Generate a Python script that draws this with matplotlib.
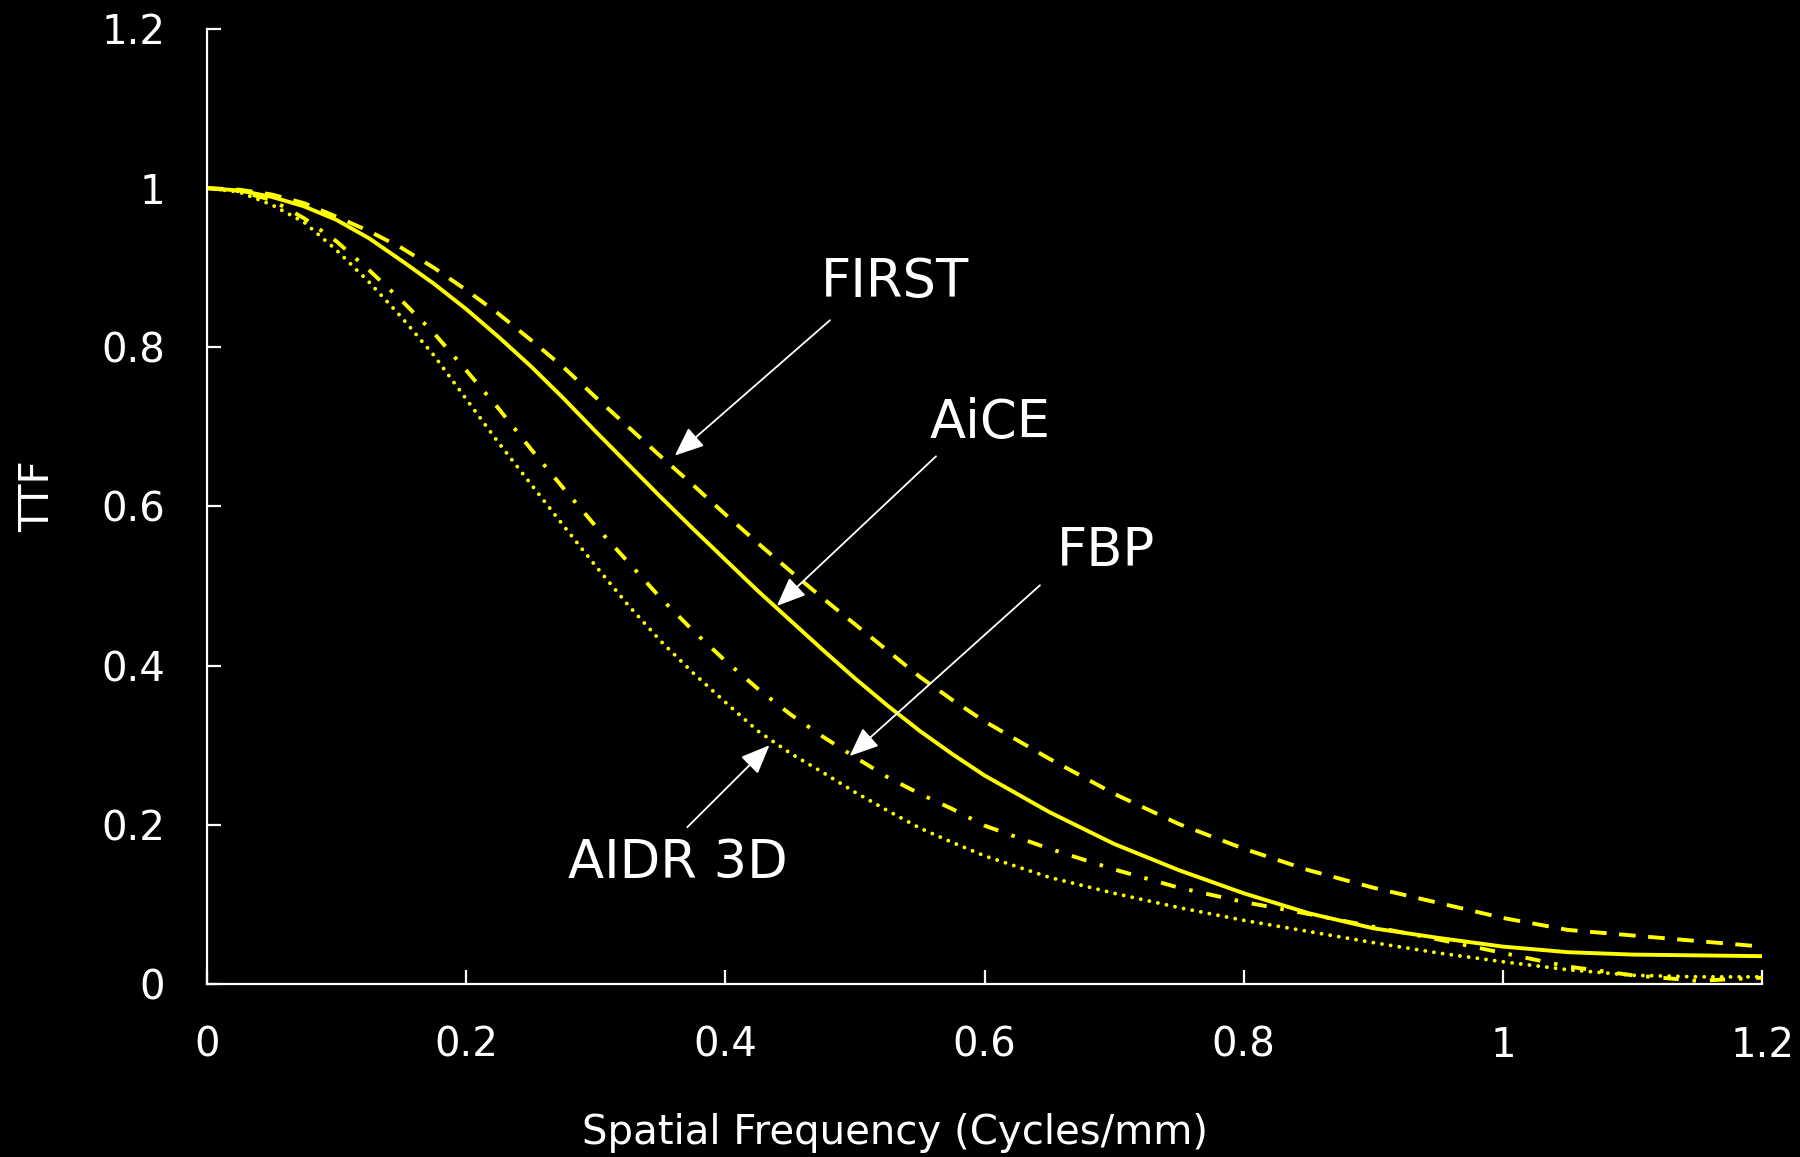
import matplotlib
matplotlib.use("Agg")
import matplotlib.pyplot as plt

plt.rcParams['font.family'] = ['DejaVu Sans']
plt.rcParams['lines.scale_dashes'] = False

freq = [0, 0.025, 0.05, 0.075, 0.1, 0.125, 0.15, 0.175, 0.2, 0.225, 0.25, 0.275,
        0.3, 0.325, 0.35, 0.375, 0.4, 0.425, 0.45, 0.475, 0.5, 0.525, 0.55, 0.575,
        0.6, 0.65, 0.7, 0.75, 0.8, 0.85, 0.9, 0.95, 1.0, 1.05, 1.1, 1.15, 1.2]

ttf_first = [1.0, 0.998, 0.992, 0.981, 0.964, 0.946, 0.925, 0.900, 0.872, 0.842, 0.809, 0.775,
             0.737, 0.700, 0.663, 0.627, 0.590, 0.554, 0.519, 0.485, 0.452, 0.419, 0.386, 0.357,
             0.330, 0.283, 0.239, 0.201, 0.170, 0.143, 0.121, 0.102, 0.083, 0.068, 0.061, 0.054, 0.047]

ttf_aice = [1.0, 0.997, 0.989, 0.977, 0.960, 0.937, 0.909, 0.880, 0.848, 0.813, 0.776, 0.736,
            0.694, 0.653, 0.612, 0.572, 0.533, 0.494, 0.457, 0.420, 0.384, 0.350, 0.318, 0.289,
            0.262, 0.216, 0.176, 0.143, 0.114, 0.089, 0.070, 0.058, 0.047, 0.040, 0.037, 0.036, 0.035]

ttf_fbp = [1.0, 0.996, 0.985, 0.962, 0.933, 0.897, 0.859, 0.818, 0.771, 0.723, 0.672, 0.623,
           0.575, 0.530, 0.485, 0.444, 0.406, 0.371, 0.339, 0.311, 0.285, 0.260, 0.239, 0.220,
           0.199, 0.170, 0.144, 0.121, 0.103, 0.088, 0.072, 0.056, 0.039, 0.022, 0.011, 0.004, 0.008]

ttf_aidr = [1.0, 0.995, 0.979, 0.957, 0.922, 0.882, 0.838, 0.790, 0.735, 0.680, 0.628, 0.576,
            0.525, 0.476, 0.431, 0.391, 0.354, 0.318, 0.290, 0.266, 0.241, 0.218, 0.196, 0.178,
            0.161, 0.134, 0.114, 0.096, 0.080, 0.066, 0.052, 0.039, 0.028, 0.018, 0.011, 0.009, 0.009]

ticks = [0, 0.2, 0.4, 0.6, 0.8, 1.0, 1.2]
tick_labels = ["0", "0.2", "0.4", "0.6", "0.8", "1", "1.2"]

labels = ["FIRST", "AiCE", "FBP", "AIDR 3D"]
label_pos = [(0.531, 0.8825), (0.604, 0.705), (0.6935, 0.544), (0.3634, 0.152)]
arrow_start = [(0.4807, 0.834), (0.5625, 0.663), (0.6427, 0.501), (0.3706, 0.197)]
arrow_tip = [(0.361, 0.664), (0.4397, 0.475), (0.4958, 0.2864), (0.434, 0.300)]

yellow = "#FFFF00"

fig = plt.figure(figsize=(18, 11.57), dpi=100, facecolor="black")
ax = fig.add_axes([0.115, 0.1495, 0.864, 0.8255], facecolor="black")

ax.plot(freq, ttf_first, color=yellow, lw=2.8, linestyle=(0, (12, 9)), dash_capstyle='butt')
ax.plot(freq, ttf_aice, color=yellow, lw=2.8, linestyle='-')
ax.plot(freq, ttf_fbp, color=yellow, lw=2.8, linestyle=(0, (11, 10, 2.5, 10)), dash_capstyle='butt')
ax.plot(freq, ttf_aidr, color=yellow, lw=2.8, linestyle=(0, (0.01, 6.3)), dash_capstyle='round')

ax.set_xlim(0, 1.2)
ax.set_ylim(0, 1.2)
ax.set_xticks(ticks)
ax.set_xticklabels(tick_labels)
ax.set_yticks(ticks)
ax.set_yticklabels(tick_labels)

for s in ['top', 'right']:
    ax.spines[s].set_visible(False)
for s in ['left', 'bottom']:
    ax.spines[s].set_color('white')
    ax.spines[s].set_linewidth(1.6)

ax.tick_params(axis='both', direction='in', length=10, width=1.6, colors='white',
               labelsize=29, labelcolor='white')
ax.tick_params(axis='x', pad=30)
ax.tick_params(axis='y', pad=30)

ax.set_xlabel("Spatial Frequency (Cycles/mm)", color='white', fontsize=29)
ax.xaxis.set_label_coords(0.4424, -0.156)
ax.xaxis.label.set_va('center')
ax.set_ylabel("TTF", color='white', fontsize=29)
ax.yaxis.set_label_coords(-0.1087, 0.511)
ax.yaxis.label.set_va('center')

for lab, pos, st, tip in zip(labels, label_pos, arrow_start, arrow_tip):
    ax.text(pos[0], pos[1], lab, color='white', fontsize=38, ha='center', va='center')
    ax.annotate('', xy=tip, xytext=st,
                arrowprops=dict(arrowstyle='-|>,head_length=0.6,head_width=0.25',
                                color='white', lw=1.3, shrinkA=0, shrinkB=0,
                                mutation_scale=30))

fig.savefig("out.png", dpi=100, facecolor="black")
